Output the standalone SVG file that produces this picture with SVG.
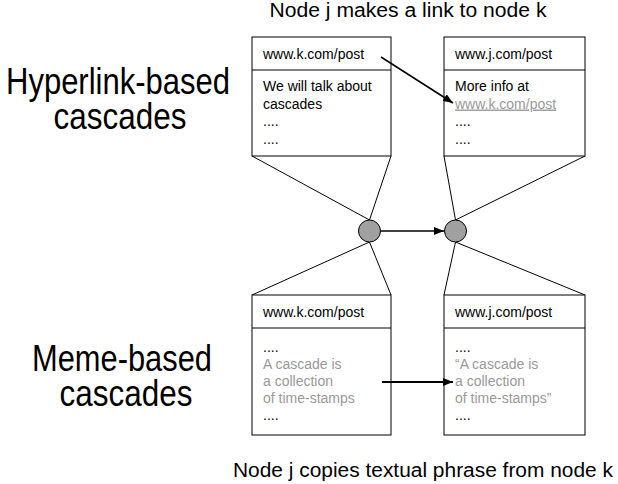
<svg xmlns="http://www.w3.org/2000/svg" width="618" height="484" viewBox="0 0 618 484">
<style>
text{font-family:"Liberation Sans",Arial,sans-serif;fill:#000}
.big{font-size:36px}
.cap{font-size:20px}
.t{font-size:14px}
.g{fill:#999}
.box{fill:#fff;stroke:#000;stroke-width:1}
.ln{stroke:#000;stroke-width:1;fill:none}
.dot{fill:#a0a0a0;stroke:#000;stroke-width:1}
</style>
<defs>
<marker id="ah" markerWidth="10" markerHeight="8" refX="10" refY="4" orient="auto" markerUnits="userSpaceOnUse">
<path d="M0,0 L10,4 L0,8 Z" fill="#000"/>
</marker>
</defs>
<text class="cap" x="408" y="16.5" text-anchor="middle" textLength="277" lengthAdjust="spacingAndGlyphs">Node j makes a link to node k</text>
<text class="cap" x="423" y="477" text-anchor="middle" textLength="380" lengthAdjust="spacingAndGlyphs">Node j copies textual phrase from node k</text>
<text class="big" x="118" y="94" text-anchor="middle" textLength="224" lengthAdjust="spacingAndGlyphs">Hyperlink-based</text>
<text class="big" x="120" y="129" text-anchor="middle" textLength="133" lengthAdjust="spacingAndGlyphs">cascades</text>
<text class="big" x="122" y="371" text-anchor="middle" textLength="180" lengthAdjust="spacingAndGlyphs">Meme-based</text>
<text class="big" x="126" y="406" text-anchor="middle" textLength="133" lengthAdjust="spacingAndGlyphs">cascades</text>
<g id="connectors">
<line class="ln" x1="252" y1="156" x2="369.5" y2="220"/>
<line class="ln" x1="391" y1="156" x2="369.5" y2="220"/>
<line class="ln" x1="252" y1="295" x2="369.5" y2="242"/>
<line class="ln" x1="391" y1="295" x2="369.5" y2="242"/>
<line class="ln" x1="444" y1="156" x2="455.5" y2="220"/>
<line class="ln" x1="585" y1="156" x2="455.5" y2="220"/>
<line class="ln" x1="444" y1="295" x2="455.5" y2="242"/>
<line class="ln" x1="585" y1="295" x2="455.5" y2="242"/>
<line x1="380.5" y1="231" x2="444" y2="231" stroke="#000" stroke-width="1.3" marker-end="url(#ah)"/>
</g>
<g id="node-k-hyper">
<rect class="box" x="252" y="37" width="139" height="119"/>
<line class="ln" x1="252" y1="70" x2="391" y2="70"/>
<text class="t" x="263" y="59">www.k.com/post</text>
<text class="t" x="263" y="91">We will talk about</text>
<text class="t" x="263" y="108.5">cascades</text>
<text class="t" x="263" y="126">....</text>
<text class="t" x="263" y="143.5">....</text>
</g>
<g id="node-j-hyper">
<rect class="box" x="444" y="37" width="141" height="119"/>
<line class="ln" x1="444" y1="70" x2="585" y2="70"/>
<text class="t" x="455" y="59">www.j.com/post</text>
<text class="t" x="455" y="91">More info at</text>
<text class="t g" x="455" y="108.5" text-decoration="underline">www.k.com/post</text>
<text class="t" x="455" y="126">....</text>
<text class="t" x="455" y="143.5">....</text>
</g>
<g id="node-k-meme">
<rect class="box" x="252" y="295" width="139" height="140"/>
<line class="ln" x1="252" y1="328" x2="391" y2="328"/>
<text class="t" x="263" y="317">www.k.com/post</text>
<text class="t" x="263" y="352">....</text>
<text class="t g" x="263" y="369">A cascade is</text>
<text class="t g" x="263" y="386">a collection</text>
<text class="t g" x="263" y="403">of time-stamps</text>
<text class="t" x="263" y="420">....</text>
</g>
<g id="node-j-meme">
<rect class="box" x="444" y="295" width="141" height="140"/>
<line class="ln" x1="444" y1="328" x2="585" y2="328"/>
<text class="t" x="455" y="317">www.j.com/post</text>
<text class="t" x="455" y="352">....</text>
<text class="t g" x="455" y="369">“A cascade is</text>
<text class="t g" x="455" y="386">a collection</text>
<text class="t g" x="455" y="403">of time-stamps”</text>
<text class="t" x="455" y="420">....</text>
</g>
<g id="circle-k"><circle class="dot" cx="369.5" cy="231" r="11"/></g>
<g id="circle-j"><circle class="dot" cx="455.5" cy="231" r="11"/></g>
<g id="arrows">
<line x1="381" y1="57" x2="453" y2="103" stroke="#000" stroke-width="1.5" marker-end="url(#ah)"/>
<line x1="382" y1="382" x2="453" y2="382" stroke="#000" stroke-width="2" marker-end="url(#ah)"/>
</g>
</svg>
